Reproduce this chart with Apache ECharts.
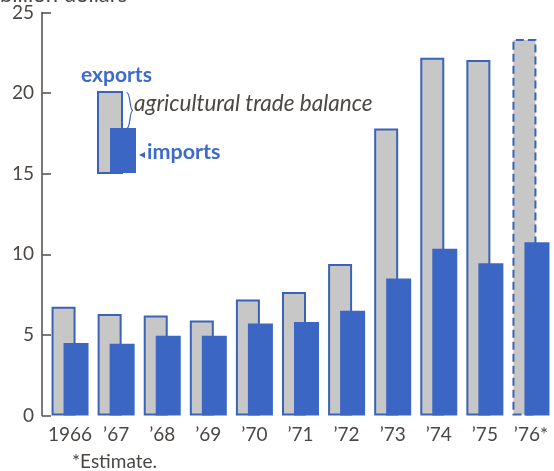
<!DOCTYPE html>
<html><head><meta charset="utf-8">
<script src="https://cdn.jsdelivr.net/npm/echarts@6/dist/echarts.min.js"></script>
<style>html,body{margin:0;padding:0;background:#fff}#c{width:554px;height:471px}</style>
</head><body><div id="c"></div>
<script>
const categories = ['1966', '\u201967', '\u201968', '\u201969', '\u201970', '\u201971', '\u201972', '\u201973', '\u201974', '\u201975', '\u201976*'];
const exportsValues = [6.75, 6.3, 6.2, 5.9, 7.2, 7.66, 9.4, 17.8, 22.2, 22.05, 23.35];
const importsValues = [4.5, 4.45, 4.95, 4.95, 5.7, 5.8, 6.5, 8.5, 10.35, 9.45, 10.75];
const estimateIndex = [10];

const BLUE = '#3b66c4';
const BORDER = '#3a63b8';
const GRAY = '#c7c7c7';
const TEXT = '#4a4744';
const FONT = 'Lato, "Open Sans", sans-serif';

const chart = echarts.init(document.getElementById('c'), null, {renderer: 'canvas'});

const exportData = exportsValues.map((v, i) => {
  const d = {value: v};
  if (estimateIndex.indexOf(i) >= 0) {
    d.itemStyle = {borderType: [8, 4]};
  }
  return d;
});

chart.setOption({
  animation: false,
  backgroundColor: '#ffffff',
  grid: {left: 47, width: 508, top: 12.5, bottom: 55.5},
  xAxis: {
    type: 'category',
    data: categories,
    axisLine: {show: false},
    axisTick: {show: false},
    axisLabel: {color: TEXT, fontFamily: FONT, fontSize: 19, margin: 10, interval: 0}
  },
  yAxis: {
    type: 'value',
    min: 0, max: 25, interval: 5,
    offset: 5,
    splitLine: {show: false},
    axisLine: {show: true, lineStyle: {color: '#5b5753', width: 1.6}},
    axisTick: {show: true, inside: true, length: 9, lineStyle: {color: '#5b5753', width: 1.6}},
    axisLabel: {color: TEXT, fontFamily: FONT, fontSize: 19, margin: 8}
  },
  series: [
    {
      name: 'exports', type: 'bar', data: exportData,
      barWidth: 24, barGap: '-50%',
      itemStyle: {color: GRAY, borderColor: BORDER, borderWidth: 2}
    },
    {
      name: 'imports', type: 'bar', data: importsValues,
      barWidth: 25,
      itemStyle: {color: BLUE}
    }
  ],
  graphic: [
    {type: 'text', x: 0, y: 6, style: {text: 'billion dollars', fill: TEXT, font: '22px ' + FONT, verticalAlign: 'bottom'}},
    {type: 'rect', shape: {x: 98, y: 92, width: 24, height: 81}, style: {fill: GRAY, stroke: BORDER, lineWidth: 2}},
    {type: 'rect', shape: {x: 110, y: 128, width: 26, height: 45}, style: {fill: BLUE}},
    {type: 'bezierCurve', shape: {x1: 126.5, y1: 92.5, cpx1: 131, cpy1: 92.5, cpx2: 129, cpy2: 110.5, x2: 133, y2: 110.5}, style: {fill: null, stroke: BORDER, lineWidth: 1.2}},
    {type: 'bezierCurve', shape: {x1: 133, y1: 110.5, cpx1: 129, cpy1: 110.5, cpx2: 131, cpy2: 128.5, x2: 126.5, y2: 128.5}, style: {fill: null, stroke: BORDER, lineWidth: 1.2}},
    {type: 'polygon', shape: {points: [[139, 155], [145, 152], [145, 158]]}, style: {fill: BLUE}},
    {type: 'text', x: 81, y: 75, style: {text: 'exports', fill: '#3d6bcc', font: 'bold 21px ' + FONT, verticalAlign: 'middle'}},
    {type: 'text', x: 134, y: 104, style: {text: 'agricultural trade balance', fill: TEXT, font: 'italic 22.5px ' + FONT, verticalAlign: 'middle'}},
    {type: 'text', x: 147, y: 152, style: {text: 'imports', fill: '#3d6bcc', font: 'bold 21.5px ' + FONT, verticalAlign: 'middle'}},
    {type: 'text', x: 72, y: 462, style: {text: '*Estimate.', fill: TEXT, font: '19px ' + FONT, verticalAlign: 'middle'}}
  ]
});
</script>
</body></html>
